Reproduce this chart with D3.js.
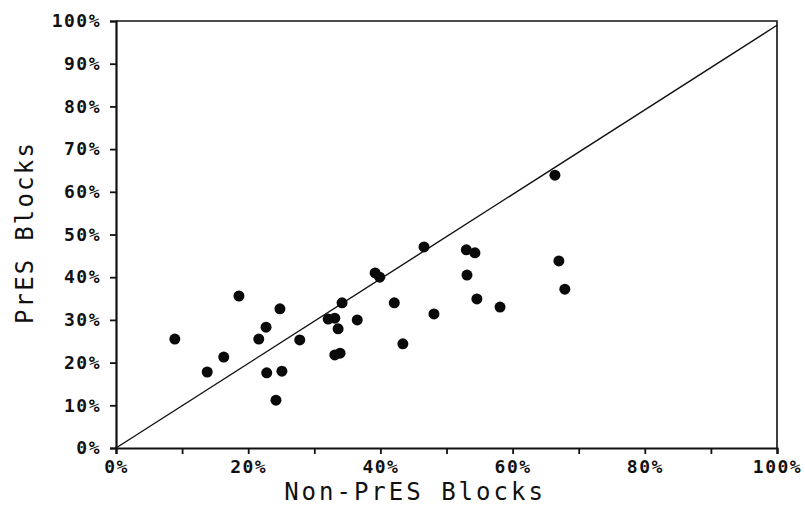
<!DOCTYPE html>
<html>
<head>
<meta charset="utf-8">
<script src="https://cdn.jsdelivr.net/npm/d3@7"></script>
<style>
  body { margin: 0; background: #fff; }
  svg { display: block; }
</style>
</head>
<body>
<div id="wrapper"></div>
<script>
// Non-PrES vs PrES block shares (percent)
const nonPresBlocks = [8.9, 13.8, 16.3, 18.6, 21.6, 22.7, 22.8, 24.2, 24.8, 25.1, 27.8,
    32.1, 33.1, 33.6, 33.1, 33.9, 34.2, 36.5, 39.2, 39.9, 42.1, 43.4, 46.6, 48.1,
    53.0, 54.3, 53.1, 54.6, 58.1, 66.4, 67.0, 67.9];
const presBlocks = [25.5, 17.8, 21.3, 35.6, 25.5, 28.3, 17.6, 11.2, 32.6, 18.0, 25.3,
    30.2, 30.4, 27.9, 21.8, 22.2, 34.0, 30.0, 41.0, 40.0, 34.0, 24.4, 47.1, 31.4,
    46.4, 45.7, 40.5, 34.9, 33.0, 63.9, 43.8, 37.2];
const diagonal = [[0, 0], [100, 99]];
const tickValues = [0, 10, 20, 30, 40, 50, 60, 70, 80, 90, 100];
const labeledX = [0, 20, 40, 60, 80, 100];

const dataset = nonPresBlocks.map((x, i) => ({ x: x, y: presBlocks[i] }));

const xAccessor = d => d.x
const yAccessor = d => d.y

const dimensions = {
    width: 805,
    height: 516,
    margin: { top: 21, right: 28, bottom: 68, left: 116 }
};
dimensions.boundedWidth = dimensions.width - dimensions.margin.left - dimensions.margin.right;
dimensions.boundedHeight = dimensions.height - dimensions.margin.top - dimensions.margin.bottom;

const wrapper = d3.select('#wrapper')
    .append('svg')
    .attr('width', dimensions.width)
    .attr('height', dimensions.height);

const bounds = wrapper.append('g')
    .attr('transform', `translate(${dimensions.margin.left},${dimensions.margin.top})`);

const xScale = d3.scaleLinear()
    .domain([0, 100])
    .range([0, dimensions.boundedWidth]);

const yScale = d3.scaleLinear()
    .domain([0, 100])
    .range([dimensions.boundedHeight, 0]);

const fmt = d => d + '%';
const tickFont = '"DejaVu Sans Mono", monospace';

// frame: top and right edges
bounds.append('path')
    .attr('d', `M0,0H${dimensions.boundedWidth}V${dimensions.boundedHeight}`)
    .attr('fill', 'none')
    .attr('stroke', '#111')
    .attr('stroke-width', 1.6);

// y = x reference line
const line = d3.line()
    .x(d => xScale(d[0]))
    .y(d => yScale(d[1]));

bounds.append('path')
    .datum(diagonal)
    .attr('d', line)
    .attr('fill', 'none')
    .attr('stroke', '#111')
    .attr('stroke-width', 1.4);

const xAxisGenerator = d3.axisBottom(xScale)
    .tickValues(tickValues)
    .tickSize(6)
    .tickPadding(6)
    .tickFormat(d => labeledX.includes(d) ? fmt(d) : '');

const xAxis = bounds.append('g')
    .attr('transform', `translate(0,${dimensions.boundedHeight})`)
    .call(xAxisGenerator);

const yAxisGenerator = d3.axisLeft(yScale)
    .tickValues(tickValues)
    .tickSize(6)
    .tickPadding(9)
    .tickFormat(fmt);

const yAxis = bounds.append('g')
    .call(yAxisGenerator);

[xAxis, yAxis].forEach(axis => {
    axis.select('.domain')
        .attr('stroke', '#111')
        .attr('stroke-width', 2.2);
    axis.selectAll('.tick line')
        .attr('stroke', '#111')
        .attr('stroke-width', 1.8);
    axis.selectAll('.tick text')
        .attr('fill', '#111')
        .style('font-family', tickFont)
        .style('font-weight', 'bold')
        .style('font-size', '18px')
        .style('letter-spacing', '1.5px');
});

bounds.append('g')
    .selectAll('circle')
    .data(dataset)
    .enter()
    .append('circle')
    .attr('cx', d => xScale(xAccessor(d)))
    .attr('cy', d => yScale(yAccessor(d)))
    .attr('r', 5.5)
    .attr('fill', '#0a0a0a');

bounds.append('text')
    .attr('x', 299)
    .attr('y', dimensions.boundedHeight + 52)
    .attr('text-anchor', 'middle')
    .attr('fill', '#111')
    .style('font-family', tickFont)
    .style('font-size', '24px')
    .style('letter-spacing', '3px')
    .text('Non-PrES Blocks');

bounds.append('text')
    .attr('transform', `translate(${-dimensions.margin.left + 33},${dimensions.boundedHeight / 2 - 2}) rotate(-90)`)
    .attr('text-anchor', 'middle')
    .attr('fill', '#111')
    .style('font-family', tickFont)
    .style('font-size', '24px')
    .style('letter-spacing', '2.2px')
    .text('PrES Blocks');
</script>
</body>
</html>
